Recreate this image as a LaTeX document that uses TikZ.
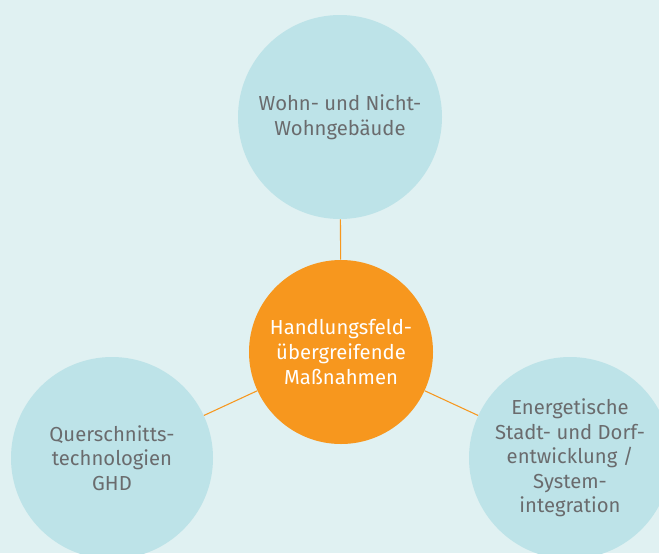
\documentclass[tikz,border=0pt]{standalone}
\usepackage{fontspec}
\setmainfont{Fira Sans}
\definecolor{bg}{HTML}{E0F1F2}
\definecolor{circ}{HTML}{BDE3E8}
\definecolor{orng}{HTML}{F7971E}
\definecolor{txt}{HTML}{6A6B6D}
\begin{document}
\begin{tikzpicture}[x=0.75pt,y=-0.75pt,
  bubble/.style={circle, fill=circ, inner sep=0pt, align=center, text=txt,
    font=\fontsize{15.2}{18.4}\selectfont},
  hub/.style={circle, fill=orng, inner sep=0pt, align=center, text=white,
    minimum size=138pt, font=\fontsize{15.2}{18.4}\selectfont},
  link/.style={draw=orng, line width=0.8pt}]
\fill[bg] (0,0) rectangle (659,553);
\useasboundingbox (0,0) rectangle (659,553);
\begin{scope}
\clip (0,0) rectangle (659,553);
\node[bubble, minimum size=153pt] (top) at (340,117) {Wohn- und Nicht-\\Wohngebäude};
\node[hub] (hub) at (341,352) {Handlungsfeld-\\übergreifende\\Maßnahmen};
\node[bubble, minimum size=151.5pt] (left) at (112,458) {Querschnitts-\\technologien\\GHD};
\node[bubble, minimum size=151.5pt] (right) at (570,458) {Energetische\\Stadt- und Dorf-\\entwicklung /\\System-\\integration};
\draw[link] (hub) -- (top);
\draw[link] (hub) -- (left);
\draw[link] (hub) -- (right);
\end{scope}
\end{tikzpicture}
\end{document}
